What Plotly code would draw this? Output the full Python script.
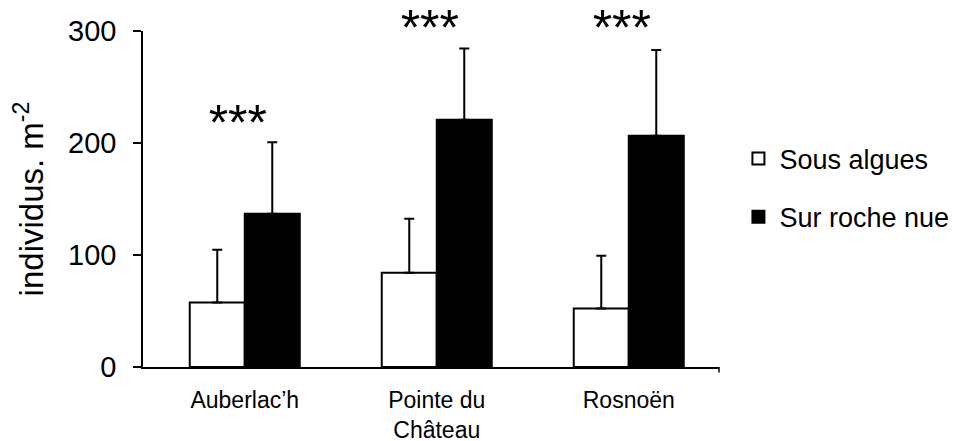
import plotly.graph_objects as go

categories = ["Auberlac’h", "Pointe du<br>Château", "Rosnoën"]
sous_algues = [57.6, 84.1, 52.2]
sous_algues_err = [47.0, 48.3, 47.1]
sur_roche = [136.9, 220.7, 206.4]
sur_roche_err = [63.8, 63.7, 76.6]
star_labels = ["***&nbsp;", "***&nbsp;", "***&nbsp;"]
star_levels = [214, 299, 299]
y_ticks = [0, 100, 200, 300]

FONT = "Liberation Sans, Arial, sans-serif"

fig = go.Figure()
fig.add_trace(go.Bar(
    x=categories, y=sous_algues, name="Sous algues",
    marker=dict(color="white", line=dict(color="black", width=2)),
    error_y=dict(type="data", array=sous_algues_err, arrayminus=[0, 0, 0],
                 symmetric=False, color="black", thickness=2, width=5),
    legendgroup="a",
))
fig.add_trace(go.Bar(
    x=categories, y=sur_roche, name="Sur roche nue",
    marker=dict(color="black", line=dict(color="black", width=2)),
    error_y=dict(type="data", array=sur_roche_err, arrayminus=[0, 0, 0],
                 symmetric=False, color="black", thickness=2, width=5),
    legendgroup="b",
))
fig.add_trace(go.Scatter(
    x=categories, y=star_levels, text=star_labels, mode="text",
    textposition="middle center", showlegend=False, cliponaxis=False,
    textfont=dict(size=50, color="black", family=FONT), hoverinfo="skip",
))

fig.add_shape(type="line", xref="x domain", yref="paper", x0=1, x1=1,
              y0=0, y1=-0.016, line=dict(color="black", width=1.5))

# page body has an 8px default margin: figure is placed at (8, 8)
fig.update_layout(
    width=966, height=441,
    margin=dict(l=135, r=255, t=23, b=82, autoexpand=False),
    paper_bgcolor="white", plot_bgcolor="white",
    font=dict(family=FONT, color="black"),
    barmode="group", bargap=0.427, bargroupgap=0,
    showlegend=True,
    legend=dict(x=1.032, y=0.692, xanchor="left", yanchor="top",
                font=dict(size=27, family=FONT), tracegroupgap=20,
                bgcolor="rgba(0,0,0,0)", itemwidth=32),
)
fig.update_xaxes(
    range=[-0.53, 2.47], showline=True, linecolor="black", linewidth=1.5,
    showgrid=False, ticks="", tickfont=dict(size=23, family=FONT),
    ticklabelstandoff=12, automargin=False,
)
fig.update_yaxes(
    range=[0, 300], tickvals=y_ticks, showline=True, linecolor="black",
    linewidth=1.5, showgrid=False, zeroline=False, ticks="outside", ticklen=8,
    tickwidth=1.5, tickcolor="black", tickfont=dict(size=29, family=FONT),
    ticklabelstandoff=11, automargin=False,
    title=dict(text="individus. m<sup>-2</sup>", font=dict(size=33, family=FONT),
               standoff=15),
)

fig.write_html("out.html")
